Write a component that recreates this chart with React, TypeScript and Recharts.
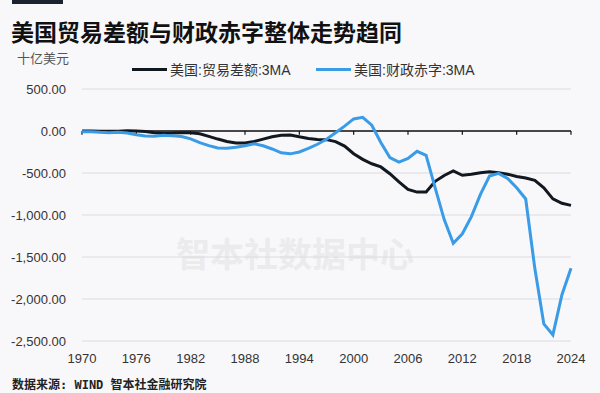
import React from "react";
import { LineChart, Line, XAxis, YAxis, CartesianGrid, ReferenceLine } from "recharts";

const years: number[] = Array.from({ length: 55 }, (_, i) => 1970 + i);

const tradeBalance3MA: number[] = [
  1, 0, -2, -2, -3, 3, 1, -7, -21, -27,
  -25, -20, -20, -33, -64, -96, -125, -143, -142, -124,
  -97, -68, -50, -47, -69, -88, -100, -103, -126, -179,
  -270, -338, -390, -428, -508, -606, -695, -727, -725, -599,
  -529, -476, -527, -516, -496, -484, -497, -514, -541, -560,
  -588, -677, -808, -860, -885,
];

const fiscalDeficit3MA: number[] = [
  -8, -8, -16, -20, -15, -25, -44, -60, -62, -51,
  -58, -65, -94, -138, -174, -202, -206, -194, -175, -153,
  -176, -214, -260, -272, -250, -207, -158, -98, -20, 58,
  144, 163, 69, -136, -316, -370, -326, -242, -289, -677,
  -1055, -1336, -1224, -1019, -754, -536, -504, -564, -676, -809,
  -1632, -2297, -2428, -1949, -1635,
];

const xTicks: number[] = [1970, 1976, 1982, 1988, 1994, 2000, 2006, 2012, 2018, 2024];
const yTicks: number[] = [500, 0, -500, -1000, -1500, -2000, -2500];

const title = "美国贸易差额与财政赤字整体走势趋同";
const unitLabel = "十亿美元";
const seriesNames = ["美国:贸易差额:3MA", "美国:财政赤字:3MA"];
const seriesColors = ["#111820", "#3a9be6"];
const sourceText = "数据来源: WIND 智本社金融研究院";
const watermark = "智本社数据中心";

const data = years.map((y, i) => ({
  year: y,
  trade: tradeBalance3MA[i],
  fiscal: fiscalDeficit3MA[i],
}));

const FONT = '"Liberation Sans", Arial, "Noto Sans CJK SC", sans-serif';

const fmt = (v: number) =>
  v.toLocaleString("en-US", { minimumFractionDigits: 2, maximumFractionDigits: 2 });

export default function App() {
  return (
    <div
      style={{
        position: "absolute",
        left: 0,
        top: 0,
        width: 600,
        height: 393,
        background: "#f8f8fb",
        fontFamily: FONT,
        overflow: "hidden",
      }}
    >
      <div style={{ position: "absolute", left: 12, top: 0, width: 51, height: 4, background: "#1b2230" }} />
      <div
        style={{
          position: "absolute",
          left: 11,
          top: 14,
          fontSize: 23,
          fontWeight: 700,
          color: "#111",
          fontFamily: '"Noto Sans CJK SC", sans-serif',
          whiteSpace: "nowrap",
          letterSpacing: 0,
        }}
      >
        {title}
      </div>
      <div
        style={{
          position: "absolute",
          left: 17,
          top: 48,
          fontSize: 13,
          color: "#555",
          fontFamily: '"Noto Sans CJK SC", sans-serif',
        }}
      >
        {unitLabel}
      </div>
      <div
        style={{
          position: "absolute",
          left: 176,
          top: 228,
          fontSize: 34,
          fontWeight: 700,
          color: "#ebebee",
          fontFamily: '"Noto Sans CJK SC", sans-serif',
          whiteSpace: "nowrap",
        }}
      >
        {watermark}
      </div>
      {seriesNames.map((name, i) => (
        <div
          key={name}
          style={{
            position: "absolute",
            left: i === 0 ? 132 : 316,
            top: 60,
            height: 18,
            display: "flex",
            alignItems: "center",
            fontSize: 14,
            color: "#333",
            whiteSpace: "nowrap",
          }}
        >
          <span style={{ display: "inline-block", width: 35, height: 3, background: seriesColors[i], marginRight: 3 }} />
          <span>{name}</span>
        </div>
      ))}
      <div style={{ position: "absolute", left: 0, top: 0 }}>
        <LineChart
          width={600}
          height={393}
          data={data}
          margin={{ top: 89, right: 29, bottom: 22, left: 8 }}
        >
          <CartesianGrid vertical={false} stroke="#dcdcde" strokeWidth={1} />
          <XAxis
            dataKey="year"
            type="number"
            domain={[1970, 2024]}
            ticks={xTicks}
            axisLine={false}
            tickLine={false}
            tickSize={6}
            tickMargin={7}
            height={30}
            tick={{ fill: "#333", fontSize: 13, fontFamily: FONT }}
            interval={0}
          />
          <YAxis
            type="number"
            domain={[-2500, 500]}
            ticks={yTicks}
            axisLine={false}
            tickLine={false}
            tickSize={6}
            tickMargin={10}
            width={74}
            tickFormatter={fmt}
            tick={{ fill: "#333", fontSize: 13, fontFamily: FONT }}
            interval={0}
          />
          <ReferenceLine y={0} stroke="#111" strokeWidth={1.5} ifOverflow="extendDomain" />
          {xTicks.map((t) => (
            <ReferenceLine
              key={t}
              segment={[
                { x: t, y: 0 },
                { x: t, y: -45 },
              ]}
              stroke="#111"
              strokeWidth={1.2}
            />
          ))}
          <Line
            type="linear"
            dataKey="trade"
            name={seriesNames[0]}
            stroke={seriesColors[0]}
            strokeWidth={3}
            dot={false}
            isAnimationActive={false}
          />
          <Line
            type="linear"
            dataKey="fiscal"
            name={seriesNames[1]}
            stroke={seriesColors[1]}
            strokeWidth={3}
            dot={false}
            isAnimationActive={false}
          />
        </LineChart>
      </div>
      <div
        style={{
          position: "absolute",
          left: 12,
          top: 375,
          fontSize: 12,
          fontWeight: 700,
          color: "#222",
          fontFamily: '"DejaVu Sans Mono", "Noto Sans CJK SC", monospace',
          whiteSpace: "nowrap",
        }}
      >
        {sourceText}
      </div>
    </div>
  );
}
